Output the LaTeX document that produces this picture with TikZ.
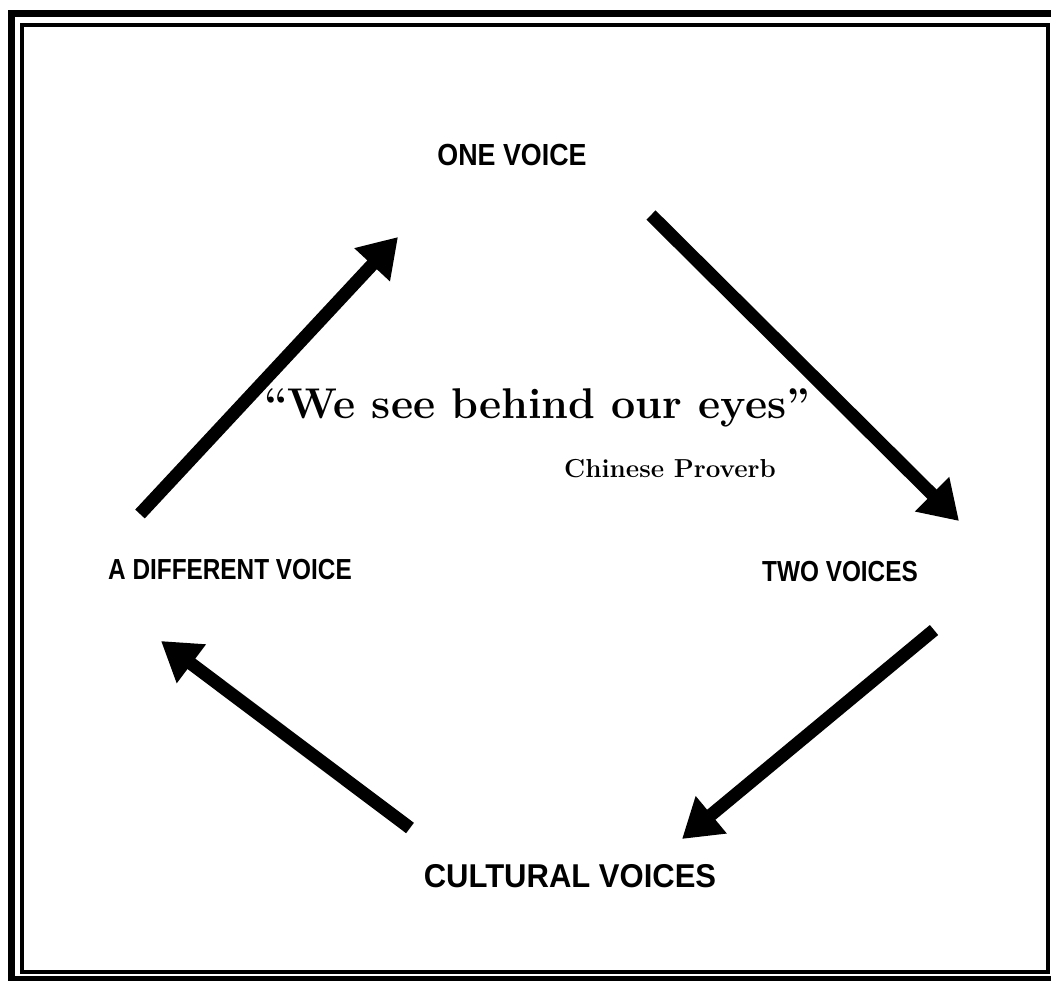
\documentclass[tikz,border=0pt]{standalone}
\usepackage{fontspec}
\newfontfamily\labelfont{Liberation Sans}
\usetikzlibrary{arrows.meta}
\begin{document}
\begin{tikzpicture}[x=1pt,y=-1pt,
  lbl/.style={font=\labelfont\bfseries, inner sep=0pt, anchor=center},
  bigarrow/.style={line width=13pt, -{Triangle[width=46pt,length=38pt]}, line join=round},
  frameline/.style={draw=black}]
\useasboundingbox (0,0) rectangle (1051,981);
\fill[white] (0,0) rectangle (1051,981);
% frame
\draw[frameline, line width=7pt] (11,14) rectangle (1056,979);
\draw[frameline, line width=4pt] (22,25) rectangle (1048,972);
% labels
\node[lbl, xscale=0.88, font=\labelfont\bfseries\fontsize{30.5}{34}\selectfont] (one) at (512,155) {ONE VOICE};
\node[lbl, xscale=0.84, font=\labelfont\bfseries\fontsize{29}{32}\selectfont] (diff) at (230,570) {A DIFFERENT VOICE};
\node[lbl, xscale=0.84, font=\labelfont\bfseries\fontsize{29}{32}\selectfont] (two) at (840,572) {TWO VOICES};
\node[lbl, xscale=0.94, font=\labelfont\bfseries\fontsize{33}{36}\selectfont] (cult) at (570,876) {CULTURAL VOICES};
\node[inner sep=0pt, font=\bfseries\fontsize{43}{46}\selectfont] (quote) at (537,408) {``We see behind our eyes''};
\node[inner sep=0pt, font=\bfseries\fontsize{26}{28}\selectfont] (prov) at (670,469) {Chinese Proverb};
% arrow coordinates
\coordinate (a1s) at (140,514);
\coordinate (a1e) at (398,237);
\coordinate (a2s) at (651,215);
\coordinate (a2e) at (959,521);
\coordinate (a3s) at (934,630);
\coordinate (a3e) at (682,839);
\coordinate (a4s) at (410,828);
\coordinate (a4e) at (161,641);
\draw[bigarrow] (a1s) -- (a1e);
\draw[bigarrow] (a2s) -- (a2e);
\draw[bigarrow] (a3s) -- (a3e);
\draw[bigarrow] (a4s) -- (a4e);
\end{tikzpicture}
\end{document}
